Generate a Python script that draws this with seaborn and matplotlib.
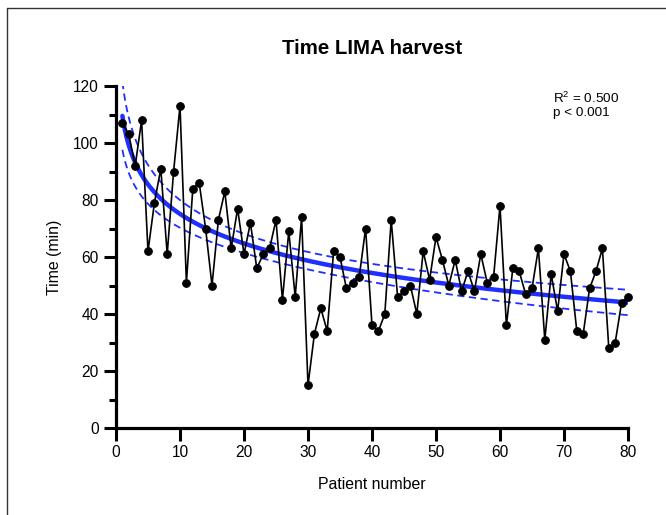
import numpy as np
import pandas as pd
import matplotlib
matplotlib.use("Agg")
import matplotlib.pyplot as plt
from matplotlib.lines import Line2D
from matplotlib.ticker import MultipleLocator
import seaborn as sns

# ---- data ----
patient = list(range(1, 81))
time_min = [107, 103, 92, 108, 62, 79, 91, 61, 90, 113,
            51, 84, 86, 70, 50, 73, 83, 63, 77, 61,
            72, 56, 61, 63, 73, 45, 69, 46, 74, 15,
            33, 42, 34, 62, 60, 49, 51, 53, 70, 36,
            34, 40, 73, 46, 48, 50, 40, 62, 52, 67,
            59, 50, 59, 48, 55, 48, 61, 51, 53, 78,
            36, 56, 55, 47, 49, 63, 31, 54, 41, 61,
            55, 34, 33, 49, 55, 63, 28, 30, 44, 46]
title = "Time LIMA harvest"
xlabel = "Patient number"
ylabel = "Time (min)"
stats_text = "R$^2$ = 0.500\np < 0.001"

df = pd.DataFrame({"patient": patient, "time": time_min})

# ---- logarithmic fit with 95% CI of the mean ----
x = np.asarray(patient, dtype=float)
y = np.asarray(time_min, dtype=float)
lx = np.log(x)
b, a = np.polyfit(lx, y, 1)
resid = y - (a + b * lx)
n = len(x)
s = np.sqrt(np.sum(resid ** 2) / (n - 2))
sxx = np.sum((lx - lx.mean()) ** 2)
tcrit = 1.9908
xg = np.linspace(1, 80, 400)
lg = np.log(xg)
yg = a + b * lg
se = s * np.sqrt(1.0 / n + (lg - lx.mean()) ** 2 / sxx)
fit_df = pd.DataFrame({"x": xg, "fit": yg, "lo": yg - tcrit * se, "hi": yg + tcrit * se})

# ---- style ----
sns.set_style("ticks")
plt.rcParams["font.family"] = ["Liberation Sans", "DejaVu Sans"]
plt.rcParams["mathtext.fontset"] = "custom"
plt.rcParams["mathtext.rm"] = "Liberation Sans"
plt.rcParams["text.color"] = "black"
plt.rcParams["axes.labelcolor"] = "black"
plt.rcParams["xtick.color"] = "black"
plt.rcParams["ytick.color"] = "black"

fig = plt.figure(figsize=(6.66, 5.15), dpi=100)
ax = fig.add_axes([116 / 666, 1 - 428 / 515, 512 / 666, 342 / 515])

blue = "#1f2fff"
sns.lineplot(data=fit_df, x="x", y="hi", ax=ax, color=blue, lw=1.3,
             linestyle=(0, (4, 2.5)), zorder=2)
sns.lineplot(data=fit_df, x="x", y="lo", ax=ax, color=blue, lw=1.3,
             linestyle=(0, (4, 2.5)), zorder=2)
sns.lineplot(data=fit_df, x="x", y="fit", ax=ax, color=blue, lw=3.2, zorder=3)

sns.lineplot(data=df, x="patient", y="time", ax=ax, color="black", lw=1.2,
             marker="o", markersize=5.5, markeredgecolor="black",
             markerfacecolor="black", zorder=4, clip_on=False)

ax.set_xlim(0, 80)
ax.set_ylim(0, 120)
ax.xaxis.set_major_locator(MultipleLocator(10))
ax.yaxis.set_major_locator(MultipleLocator(20))
ax.yaxis.set_minor_locator(MultipleLocator(10))

for side in ["top", "right"]:
    ax.spines[side].set_visible(False)
for side in ["left", "bottom"]:
    ax.spines[side].set_linewidth(2.3)
    ax.spines[side].set_color("black")
    ax.spines[side].set_capstyle("projecting")
    ax.spines[side].set_zorder(5)

ax.tick_params(axis="both", which="major", length=9, width=2.2, color="black",
               labelsize=11.2, pad=3.5, labelcolor="black")
ax.tick_params(axis="y", which="minor", length=4.8, width=2.2, color="black")

ax.set_xlabel(xlabel, fontsize=11.4, labelpad=12, color="black")
ax.set_ylabel(ylabel, fontsize=11.4, labelpad=8, color="black")

ax.text(0.853, 0.985, stats_text, transform=ax.transAxes, ha="left", va="top",
        fontsize=9.7, linespacing=1.05, color="black")

fig.text(0.559, 0.905, title, ha="center", va="center", fontsize=14.7,
         fontweight="bold", color="black")

# figure border (partially visible frame)
fig.add_artist(Line2D([7 / 666, 7 / 666], [0, 1 - 8 / 515], transform=fig.transFigure,
                      color="#333333", lw=1.0))
fig.add_artist(Line2D([7 / 666, 1], [1 - 8 / 515, 1 - 8 / 515], transform=fig.transFigure,
                      color="#333333", lw=1.0))

fig.savefig("out.png", dpi=100)
